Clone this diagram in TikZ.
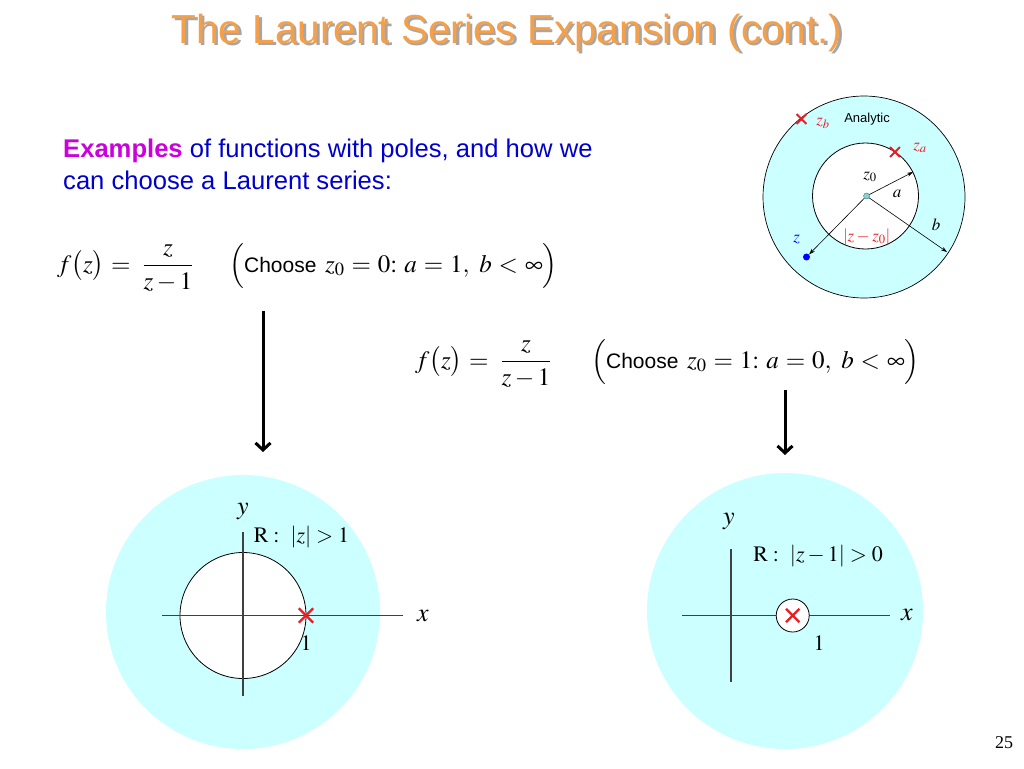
\documentclass[tikz,border=0pt]{standalone}
\usepackage{amsmath}
\usepackage{mathptmx}
\usepackage[no-math]{fontspec}
\setmainfont{Liberation Sans}
\newfontfamily\timesfont{Liberation Serif}
\usetikzlibrary{arrows.meta, shapes.misc}

\definecolor{paleregion}{RGB}{204,255,255}
\definecolor{titleorange}{RGB}{245,160,72}
\definecolor{polered}{RGB}{232,30,36}
\definecolor{textblue}{RGB}{0,0,204}
\definecolor{exmagenta}{RGB}{204,0,221}
\definecolor{centercyan}{RGB}{120,215,215}

\newcommand{\wideskips}{\thickmuskip=5mu\relax}

\tikzset{
  titletext/.style={font=\fontsize{40.5}{43}\selectfont, inner sep=0pt},
  introtext/.style={font=\fontsize{25.6}{29}\selectfont, text=textblue, inner sep=0pt},
  formula/.style={font=\fontsize{25}{29}\selectfont, inner sep=0pt},
  smalllabel/.style={font=\fontsize{17}{20}\selectfont, inner sep=0pt},
  planelabel/.style={font=\fontsize{26}{30}\selectfont, inner sep=0pt},
  numlabel/.style={font=\fontsize{22}{26}\selectfont, inner sep=0pt},
  pole/.style={cross out, draw=polered, line width=2.4pt, minimum size=12pt, inner sep=0pt},
  region/.style={fill=paleregion, draw=none},
  hole/.style={fill=white, draw=black, line width=0.8pt},
  axisline/.style={draw=black!75, line width=1.1pt},
  downarrow/.style={line width=3pt, -{Straight Barb[length=7pt,width=15pt]}},
  radiusarrow/.style={line width=0.6pt, -{Stealth[length=6pt,width=4pt]}},
}

\begin{document}
\begin{tikzpicture}[x=1pt,y=-1pt]
\fill[white] (0,0) rectangle (1024,768);
\useasboundingbox (0,0) rectangle (1024,768);
% Title and its shadow
\node[titletext, text=black!35] (titleshadow) at (509.5,35.5) {The Laurent Series Expansion (cont.)};
\node[titletext, text=titleorange] (title) at (507,33) {The Laurent Series Expansion (cont.)};
% Intro text
\node[introtext, anchor=base west] (intro1) at (63,157) {\textcolor{exmagenta}{\bfseries Examples} of functions with poles, and how we};
\node[introtext, anchor=base west] (intro2) at (63,189) {can choose a Laurent series:};
% First function, z0 = 0
\node[formula, anchor=base west] (func1) at (57,272) {$\wideskips f\bigl(z\bigr)=\hspace{5pt}\displaystyle\frac{z}{z-1}$};
\node[formula, anchor=base west] (choice1) at (229,272) {$\wideskips\Bigl(\text{\fontsize{21}{26}\selectfont Choose }\,z_0=0{:}\ a=1,\ b<\infty\Bigr)$};
% Second function, z0 = 1
\node[formula, anchor=base west] (func2) at (415,368) {$\wideskips f\bigl(z\bigr)=\hspace{5pt}\displaystyle\frac{z}{z-1}$};
\node[formula, anchor=base west] (choice2) at (591,368) {$\wideskips\Bigl(\text{\fontsize{21}{26}\selectfont Choose }\,z_0=1{:}\ a=0,\ b<\infty\Bigr)$};
% Arrows down to the regions
\coordinate (arrow1top) at (263,311);
\coordinate (arrow1end) at (263,452);
\coordinate (arrow2top) at (785,390);
\coordinate (arrow2end) at (785,455);
\draw[downarrow] (arrow1top) -- (arrow1end);
\draw[downarrow] (arrow2top) -- (arrow2end);
% Annulus sketch, top right
\draw[region, draw=black, line width=0.7pt] (864,197) circle [radius=101];
\draw[hole] (865.5,196) circle [radius=53];
\node[circle, fill=centercyan, draw=black!60, line width=0.4pt, inner sep=0pt, minimum size=6pt] (zcenter) at (866.5,196) {};
\node[circle, fill=blue, inner sep=0pt, minimum size=7pt] (zpoint) at (806.5,257) {};
\coordinate (atip) at (913,172);
\coordinate (btip) at (947,252);
\draw[radiusarrow] (zcenter) -- (atip);
\draw[radiusarrow] (zcenter) -- (btip);
\draw[radiusarrow] (zcenter) -- (zpoint);
\node[pole, line width=1.8pt, minimum size=8pt] (zbmark) at (801.5,119) {};
\node[pole, line width=1.8pt, minimum size=8pt] (zamark) at (895,152) {};
\node[font=\fontsize{13}{15}\selectfont, inner sep=0pt] (analytic) at (867,119) {Analytic};
\node[smalllabel, text=polered] (zblabel) at (823,123) {$z_b$};
\node[smalllabel, text=polered] (zalabel) at (920,148) {$z_a$};
\node[smalllabel] (z0label) at (870,177) {$z_0$};
\node[smalllabel] (alabel) at (897,194) {$a$};
\node[smalllabel] (blabel) at (936,225) {$b$};
\node[smalllabel, text=polered] (distlabel) at (866.7,237) {$|z-z_0|$};
\node[smalllabel, text=blue] (zlabel) at (796.7,239) {$z$};
% Region |z| > 1
\fill[region] (243,612) circle [radius=137];
\draw[hole] (243,615.5) circle [radius=63];
\draw[axisline] (162,615.5) -- (403,615.5);
\draw[axisline] (243,532) -- (243,696);
\node[pole] (poleA) at (306,615.5) {};
\node[numlabel] (oneA) at (306,643) {$1$};
\node[planelabel] (xA) at (423,616) {$x$};
\node[planelabel] (yA) at (243,511) {$y$};
\node[numlabel] (regionA) at (301.5,537) {$\mathrm{R}:\ |z|>1$};
% Region |z-1| > 0
\fill[region] (785,611) circle [radius=138];
\draw[axisline] (682,615.5) -- (890,615.5);
\draw[axisline] (731,549) -- (731,682);
\draw[hole] (792.7,615.5) circle [radius=16.5];
\node[pole, minimum size=11pt] (poleB) at (792.7,615.5) {};
\node[numlabel] (oneB) at (819,643) {$1$};
\node[planelabel] (xB) at (907,615) {$x$};
\node[planelabel] (yB) at (729,521) {$y$};
\node[numlabel] (regionB) at (818,556) {$\mathrm{R}:\ |z-1|>0$};
% Page number
\node[font=\timesfont\fontsize{18}{20}\selectfont, inner sep=0pt] (pagenum) at (1004,743) {25};
\end{tikzpicture}
\end{document}
